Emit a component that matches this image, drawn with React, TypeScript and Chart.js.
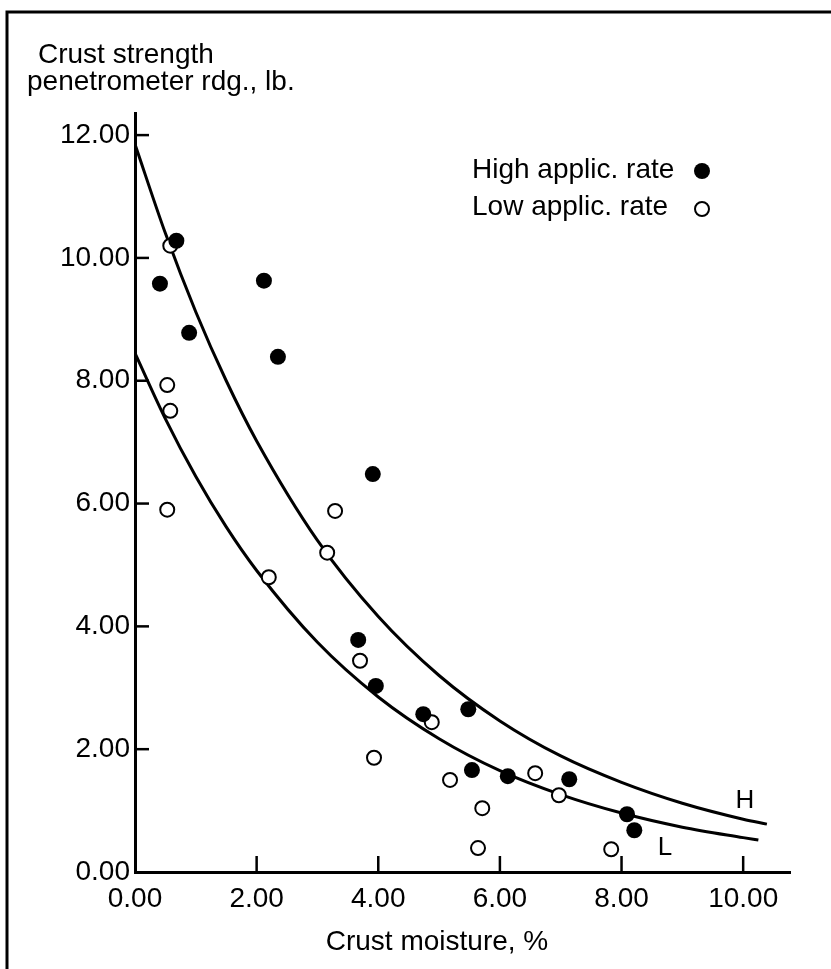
import React, { useEffect, useRef } from "react";
import { Chart, registerables } from "chart.js";

Chart.register(...registerables);

// High application rate (filled circles)
const highX = [0.41, 0.68, 0.89, 2.12, 2.35, 3.91, 3.67, 3.96, 4.74, 5.48, 5.54, 6.13, 7.14, 8.09, 8.21];
const highY = [9.58, 10.28, 8.78, 9.63, 8.39, 6.48, 3.78, 3.03, 2.57, 2.65, 1.66, 1.56, 1.51, 0.94, 0.68];

// Low application rate (open circles)
const lowX = [0.58, 0.53, 0.58, 0.53, 2.2, 3.16, 3.29, 3.7, 3.93, 4.88, 5.18, 5.71, 5.64, 6.58, 6.97, 7.83];
const lowY = [10.2, 7.93, 7.51, 5.9, 4.8, 5.2, 5.88, 3.44, 1.86, 2.44, 1.5, 1.04, 0.39, 1.61, 1.25, 0.37];

// Fitted curve H (high rate)
const curveHX = [0, 0.5, 1, 1.5, 2, 3, 4, 5, 6, 7, 8, 9, 10, 10.39];
const curveHY = [11.85, 10.4, 9.12, 8.0, 7.02, 5.4, 4.16, 3.2, 2.46, 1.89, 1.46, 1.12, 0.86, 0.78];

// Fitted curve L (low rate)
const curveLX = [0, 0.5, 1, 1.5, 2, 3, 4, 5, 6, 7, 8, 9, 10, 10.25];
const curveLY = [8.45, 7.38, 6.44, 5.62, 4.91, 3.74, 2.85, 2.17, 1.65, 1.26, 0.96, 0.73, 0.56, 0.52];

const xTicks = [0, 2, 4, 6, 8, 10];
const yTicks = [0, 2, 4, 6, 8, 10, 12];

const yTitle = ["Crust strength", "penetrometer rdg., lb."];
const xTitle = "Crust moisture, %";
const legendLabels = ["High applic. rate", "Low applic. rate"];
const curveLabels = ["H", "L"];

const FONT = "'Liberation Sans', Arial, sans-serif";

const toPts = (xs: number[], ys: number[]) => xs.map((x, i) => ({ x, y: ys[i] }));

const decorPlugin = {
  id: "decor",
  afterDraw(chart: any) {
    const ctx = chart.ctx;
    const xs = chart.scales.x;
    const ys = chart.scales.y;
    const area = chart.chartArea;
    ctx.save();
    ctx.strokeStyle = "#000";
    ctx.fillStyle = "#000";
    // frame (left and top)
    ctx.lineWidth = 3;
    ctx.beginPath();
    ctx.moveTo(7, 969);
    ctx.lineTo(7, 12);
    ctx.lineTo(831, 12);
    ctx.stroke();
    // inward ticks
    ctx.lineWidth = 2.5;
    xTicks.forEach((v) => {
      if (v === 0) return;
      const px = xs.getPixelForValue(v);
      ctx.beginPath();
      ctx.moveTo(px, area.bottom);
      ctx.lineTo(px, area.bottom - 16);
      ctx.stroke();
    });
    yTicks.forEach((v) => {
      if (v === 0) return;
      const py = ys.getPixelForValue(v);
      ctx.beginPath();
      ctx.moveTo(area.left, py);
      ctx.lineTo(area.left + 14, py);
      ctx.stroke();
    });
    // y title
    ctx.font = `28px ${FONT}`;
    ctx.textAlign = "left";
    ctx.textBaseline = "alphabetic";
    ctx.fillText(yTitle[0], 38, 63);
    ctx.fillText(yTitle[1], 27, 90);
    // x title
    ctx.textAlign = "center";
    ctx.fillText(xTitle, 437, 950);
    // legend
    ctx.textAlign = "left";
    ctx.fillText(legendLabels[0], 472, 178);
    ctx.fillText(legendLabels[1], 472, 215);
    ctx.beginPath();
    ctx.arc(702, 171, 8, 0, Math.PI * 2);
    ctx.fill();
    ctx.lineWidth = 2;
    ctx.beginPath();
    ctx.arc(702, 209, 7, 0, Math.PI * 2);
    ctx.stroke();
    // curve labels
    ctx.font = `26px ${FONT}`;
    ctx.textAlign = "center";
    ctx.fillText(curveLabels[0], 745, 808);
    ctx.fillText(curveLabels[1], 665, 855);
    ctx.restore();
  },
};

export default function App() {
  const ref = useRef<HTMLCanvasElement | null>(null);
  useEffect(() => {
    if (!ref.current) return;
    const chart = new Chart(ref.current, {
      type: "scatter",
      data: {
        datasets: [
          {
            label: "High",
            data: toPts(highX, highY),
            backgroundColor: "#000",
            borderColor: "#000",
            pointRadius: 8,
            borderWidth: 0,
            order: 0,
          },
          {
            label: "Low",
            data: toPts(lowX, lowY),
            backgroundColor: "#fff",
            borderColor: "#000",
            pointRadius: 7,
            borderWidth: 2,
            order: 0,
          },
          {
            type: "line",
            label: "H",
            data: toPts(curveHX, curveHY),
            borderColor: "#000",
            borderWidth: 3,
            pointRadius: 0,
            tension: 0.4,
            cubicInterpolationMode: "monotone",
            fill: false,
            order: 1,
          } as any,
          {
            type: "line",
            label: "L",
            data: toPts(curveLX, curveLY),
            borderColor: "#000",
            borderWidth: 3,
            pointRadius: 0,
            tension: 0.4,
            cubicInterpolationMode: "monotone",
            fill: false,
            order: 1,
          } as any,
        ],
      },
      options: {
        responsive: false,
        animation: false,
        layout: { padding: { left: 0, right: 41, top: 113, bottom: 37 } },
        plugins: { legend: { display: false }, tooltip: { enabled: false } },
        scales: {
          x: {
            type: "linear",
            min: 0,
            max: 10.77,
            grid: { display: false, drawTicks: false },
            border: { display: true, color: "#000", width: 3 },
            afterBuildTicks: (s: any) => {
              s.ticks = xTicks.map((v) => ({ value: v }));
            },
            afterFit: (s: any) => {
              s.height = 60;
            },
            ticks: {
              color: "#000",
              font: { family: FONT, size: 28 },
              padding: 10,
              maxRotation: 0,
              callback: (v: any) => Number(v).toFixed(2),
            },
          },
          y: {
            type: "linear",
            min: 0,
            max: 12.36,
            grid: { display: false, drawTicks: false },
            border: { display: true, color: "#000", width: 3 },
            afterBuildTicks: (s: any) => {
              s.ticks = yTicks.map((v) => ({ value: v }));
            },
            afterFit: (s: any) => {
              s.width = 135;
            },
            ticks: {
              color: "#000",
              font: { family: FONT, size: 28 },
              padding: 5,
              callback: (v: any) => Number(v).toFixed(2),
            },
          },
        },
      },
      plugins: [decorPlugin],
    });
    return () => chart.destroy();
  }, []);
  return (
    <div style={{ position: "absolute", left: 0, top: 0, width: 831, height: 969, background: "#fff" }}>
      <canvas ref={ref} width={831} height={969} style={{ display: "block" }} />
    </div>
  );
}
